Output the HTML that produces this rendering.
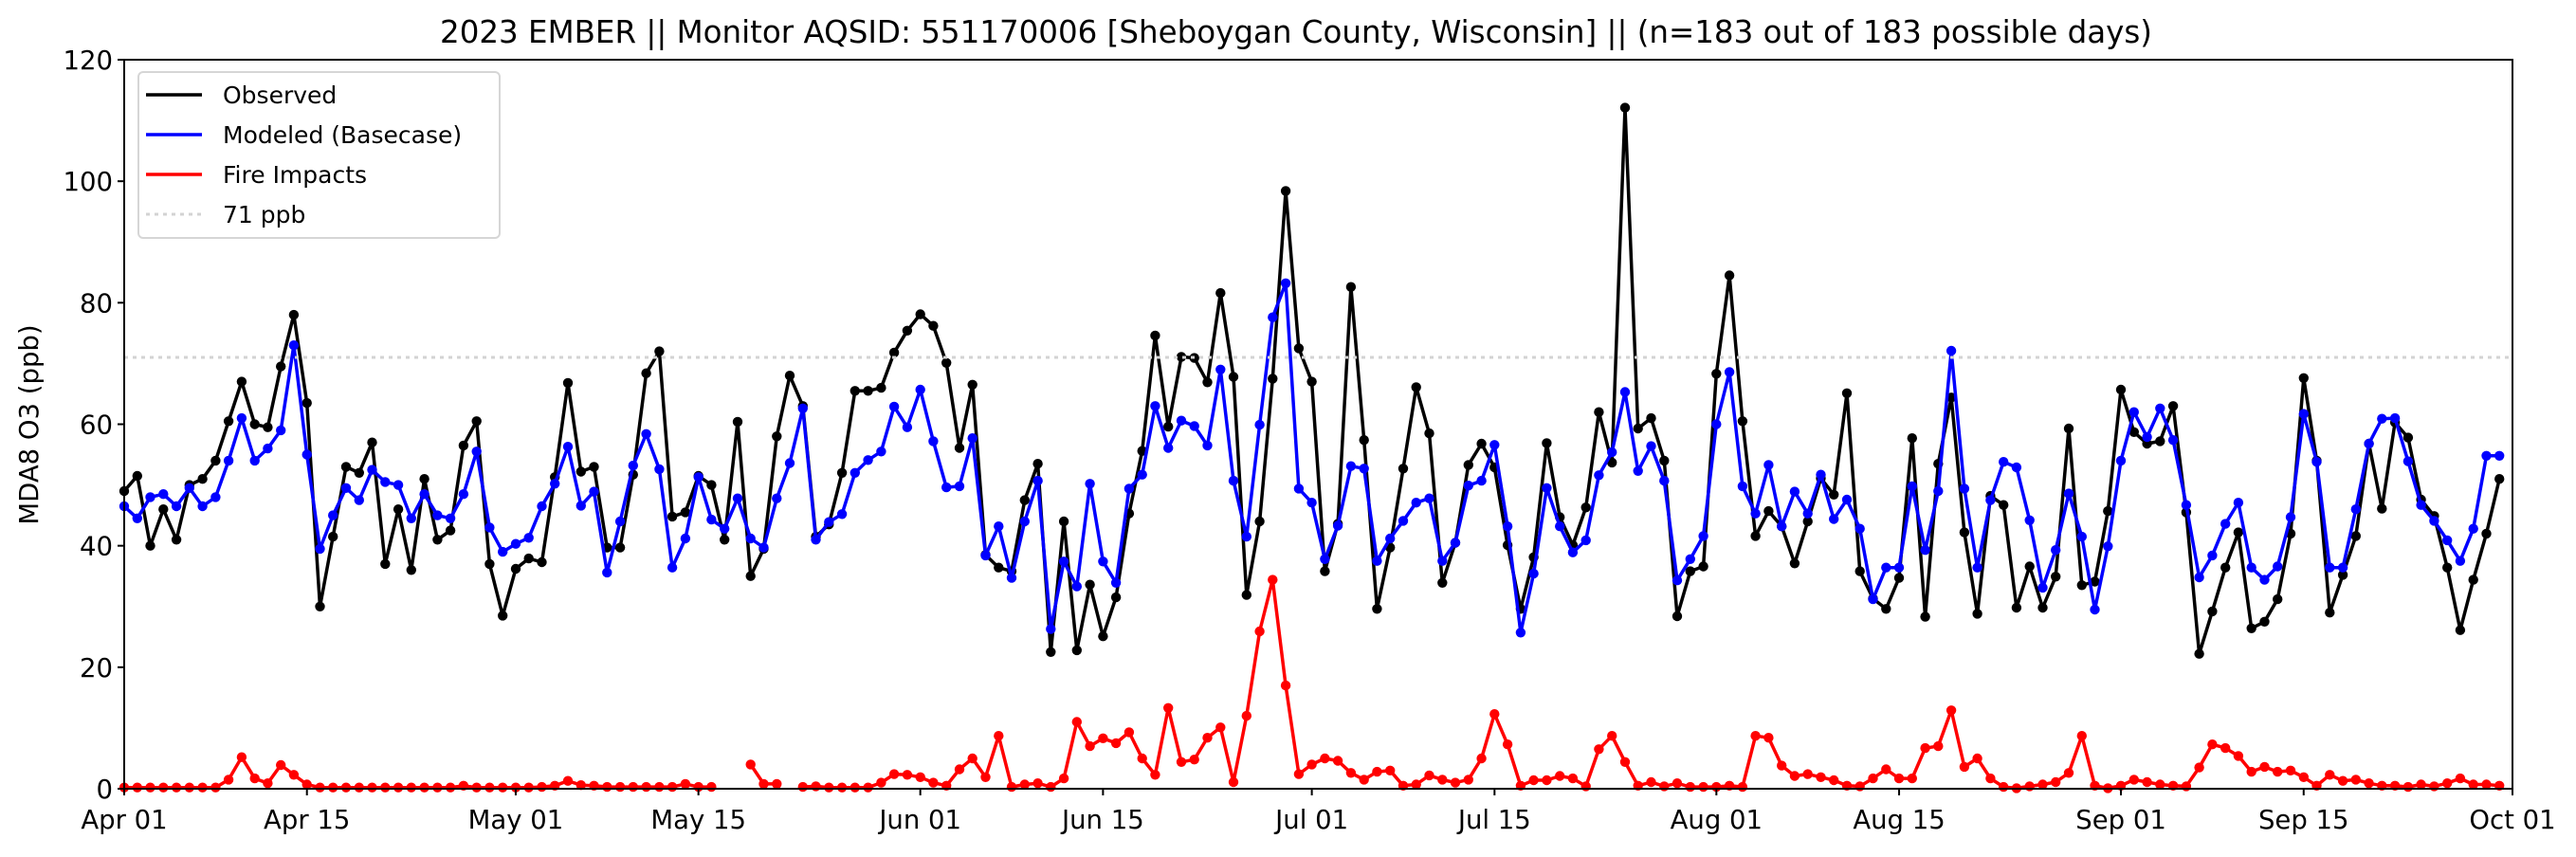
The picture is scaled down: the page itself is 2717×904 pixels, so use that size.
<!DOCTYPE html>
<html>
<head>
<meta charset="utf-8">
<style>
  html,body{margin:0;padding:0;background:#fff;}
  body{width:2717px;height:900px;overflow:hidden;font-family:"DejaVu Sans","Liberation Sans",sans-serif;}
  svg text{font-family:"DejaVu Sans","Liberation Sans",sans-serif;}
</style>
</head>
<body>
<svg id="chart" width="2717" height="900" viewBox="0 0 2717 900" xmlns="http://www.w3.org/2000/svg">
  <rect width="2717" height="900" fill="#fff"/>
  <text x="1367" y="45" font-size="32.5" text-anchor="middle" fill="#000">2023 EMBER || Monitor AQSID: 551170006 [Sheboygan County, Wisconsin] || (n=183 out of 183 possible days)</text>
  <text transform="translate(40,448) rotate(-90)" font-size="27.5" text-anchor="middle" fill="#000">MDA8 O3 (ppb)</text>
  <g id="grid"></g>
  <g id="series"></g>
  <g id="axes"></g>
  <g id="legend">
    <rect x="146" y="76" width="381" height="175" rx="5" fill="#fff" fill-opacity="0.8" stroke="#d6d6d6" stroke-width="2"/>
    <g>
      <line x1="154" y1="100" x2="213" y2="100" stroke="#000" stroke-width="3.5"/>
      <text x="235" y="109" font-size="25" fill="#000">Observed</text>
    </g>
    <g>
      <line x1="154" y1="142" x2="213" y2="142" stroke="#0000ff" stroke-width="3.5"/>
      <text x="235" y="151" font-size="25" fill="#000">Modeled (Basecase)</text>
    </g>
    <g>
      <line x1="154" y1="184" x2="213" y2="184" stroke="#ff0000" stroke-width="3.5"/>
      <text x="235" y="193" font-size="25" fill="#000">Fire Impacts</text>
    </g>
    <g>
      <line x1="154" y1="226" x2="213" y2="226" stroke="#d3d3d3" stroke-width="3" stroke-dasharray="4,5"/>
      <text x="235" y="235" font-size="25" fill="#000">71 ppb</text>
    </g>
  </g>
</svg>
<script>
const observed = [49,51.5,40,46,41,50,51,54,60.5,67,60,59.5,69.5,78,63.5,30,41.5,53,52,57,37,46,36,51,41,42.5,56.5,60.5,37,28.5,
36.2,37.9,37.3,51.3,66.8,52.2,53,39.7,39.7,51.7,68.4,72,44.8,45.5,51.5,50,41,60.4,35,39.5,58,68,63,41.5,43.5,52,65.5,65.5,66,71.8,75.4,
78.1,76.2,70.1,56.1,66.5,38.5,36.4,35.8,47.5,53.5,22.5,44,22.8,33.6,25.1,31.5,45.3,55.6,74.6,59.6,71.1,70.9,66.9,81.6,67.8,31.9,44,67.5,98.4,72.5,67,
35.8,43.6,82.6,57.4,29.6,39.7,52.7,66.1,58.5,33.9,40.5,53.3,56.8,52.9,40.1,29.6,38.1,56.9,44.7,40.1,46.3,62,53.7,112.1,59.3,61,54,28.4,35.8,36.6,
68.3,84.5,60.5,41.6,45.7,43.2,37.1,44,51.1,48.4,65.1,35.8,31.3,29.6,34.7,57.7,28.3,53.5,64.4,42.2,28.8,48.2,46.7,29.8,36.6,29.8,34.9,59.3,33.5,34.1,
45.7,65.7,58.7,56.8,57.2,63,45.5,22.2,29.2,36.4,42.2,26.4,27.5,31.2,42,67.6,54,29,35.2,41.6,56.8,46.1,60.3,57.8,47.6,44.9,36.4,26.1,34.4,42,51];
const modeled = [46.5,44.5,48,48.5,46.5,49.5,46.5,48,54,61,54,56,59,73,55,39.5,45,49.5,47.5,52.5,50.5,50,44.5,48.5,45,44.5,48.5,55.5,43,39,
40.3,41.3,46.5,50.2,56.3,46.6,48.9,35.6,44,53.2,58.4,52.6,36.4,41.2,51.3,44.3,42.8,47.8,41.2,39.7,47.8,53.6,62.6,41,43.9,45.2,52,54.1,55.5,62.9,59.5,
65.7,57.2,49.6,49.8,57.7,38.4,43.2,34.7,44,50.7,26.3,37.4,33.3,50.2,37.4,33.9,49.4,51.7,63,56.1,60.6,59.7,56.5,69,50.7,41.5,59.9,77.6,83.2,49.4,47.1,
37.8,43.3,53.1,52.7,37.5,41.2,44.1,47.1,47.8,37.5,40.5,49.9,50.7,56.6,43.2,25.7,35.4,49.5,43.2,38.9,40.9,51.6,55.4,65.3,52.3,56.4,50.7,34.3,37.8,41.6,
60,68.6,49.8,45.3,53.3,43.2,48.9,45.3,51.7,44.4,47.6,42.8,31.2,36.4,36.4,49.8,39.3,49,72.1,49.4,36.4,47.5,53.8,52.9,44.2,33.1,39.3,48.6,41.5,29.5,
39.9,54,62,57.9,62.6,57.4,46.7,34.8,38.4,43.6,47.1,36.4,34.4,36.6,44.7,61.7,53.8,36.4,36.4,46,56.8,60.9,61,53.9,46.7,44.1,40.9,37.5,42.8,54.8,54.8];
const fire = [0.2,0.2,0.2,0.2,0.2,0.2,0.2,0.2,1.5,5.2,1.7,0.9,3.9,2.3,0.7,0.2,0.2,0.2,0.2,0.2,0.2,0.2,0.2,0.2,0.2,0.2,0.5,0.2,0.2,0.2,
0.2,0.2,0.3,0.5,1.3,0.6,0.5,0.3,0.3,0.3,0.3,0.3,0.3,0.8,0.3,0.3,null,null,4,0.8,0.8,null,0.3,0.4,0.2,0.2,0.2,0.2,1.0,2.4,2.3,
1.9,1.0,0.5,3.2,5,1.9,8.7,0.3,0.7,0.9,0.3,1.7,11,7,8.3,7.5,9.3,5,2.3,13.3,4.4,4.8,8.4,10.1,1.1,12,25.9,34.4,17,2.4,4,
5,4.6,2.6,1.5,2.8,3,0.5,0.7,2.2,1.5,1,1.5,5,12.3,7.3,0.5,1.4,1.4,2.1,1.7,0.4,6.5,8.7,4.4,0.5,1.1,0.4,0.9,0.3,0.3,
0.3,0.5,0.3,8.7,8.4,3.8,2.1,2.4,1.9,1.4,0.5,0.4,1.7,3.2,1.7,1.7,6.7,7,12.9,3.6,5,1.7,0.3,0.1,0.4,0.7,1.1,2.6,8.7,0.5,
0.1,0.5,1.5,1.1,0.7,0.5,0.4,3.5,7.3,6.7,5.4,2.8,3.6,2.8,3,1.9,0.5,2.3,1.3,1.5,0.9,0.5,0.5,0.3,0.7,0.4,0.9,1.7,0.7,0.7,0.5];
const xTickDays = [0,14,30,44,61,75,91,105,122,136,153,167,183];
const xTickLabels = ["Apr 01","Apr 15","May 01","May 15","Jun 01","Jun 15","Jul 01","Jul 15","Aug 01","Aug 15","Sep 01","Sep 15","Oct 01"];
const yTicks = [0,20,40,60,80,100,120];
const threshold = 71;

const NS = "http://www.w3.org/2000/svg";
const L = 131, R = 2650, T = 63, B = 832;
const xMax = 183, yMax = 120;
function xs(d){ return L + (R - L) * d / xMax; }
function ys(v){ return B - (B - T) * v / yMax; }
function mk(tag, attrs, parent){
  const e = document.createElementNS(NS, tag);
  for (const k in attrs) e.setAttribute(k, attrs[k]);
  parent.appendChild(e);
  return e;
}
const series = document.getElementById('series');
const axes = document.getElementById('axes');

function drawSeries(vals, color, name){
  const g = mk('g', {}, series);
  
  
  let d = '', pen = false;
  vals.forEach((v, i) => {
    if (v === null) { pen = false; return; }
    d += (pen ? 'L' : 'M') + xs(i).toFixed(1) + ' ' + ys(v).toFixed(1) + ' ';
    pen = true;
  });
  const p = mk('path', {d: d, fill: 'none', stroke: color, 'stroke-width': 3.5, 'stroke-linejoin': 'round'}, g);
  
  
  vals.forEach((v, i) => {
    if (v === null) return;
    const c = mk('circle', {cx: xs(i).toFixed(1), cy: ys(v).toFixed(1), r: 5.2, fill: color}, g);
    
    
  });
}
drawSeries(observed, '#000000', 'observed-series');
drawSeries(modeled, '#0000ff', 'modeled-series');
drawSeries(fire, '#ff0000', 'fire-impacts-series');

const th = mk('line', {x1: L, x2: R, y1: ys(threshold), y2: ys(threshold), stroke: '#d3d3d3', 'stroke-width': 3, 'stroke-dasharray': '4,5'}, series);



const frame = mk('rect', {x: L, y: T, width: R - L, height: B - T, fill: 'none', stroke: '#000', 'stroke-width': 2}, axes);



yTicks.forEach(v => {
  const t = mk('line', {x1: L - 7, x2: L, y1: ys(v), y2: ys(v), stroke: '#000', 'stroke-width': 2}, axes);
  
  
  const lb = mk('text', {x: L - 12, y: ys(v) + 10, 'font-size': 27.5, 'text-anchor': 'end', fill: '#000'}, axes);
  
  
  lb.textContent = String(v);
});
xTickDays.forEach((d, i) => {
  const t = mk('line', {x1: xs(d), x2: xs(d), y1: B, y2: B + 7, stroke: '#000', 'stroke-width': 2}, axes);
  
  
  const lb = mk('text', {x: xs(d), y: B + 42, 'font-size': 27.5, 'text-anchor': 'middle', fill: '#000'}, axes);
  
  
  lb.textContent = xTickLabels[i];
});
</script>
</body>
</html>
